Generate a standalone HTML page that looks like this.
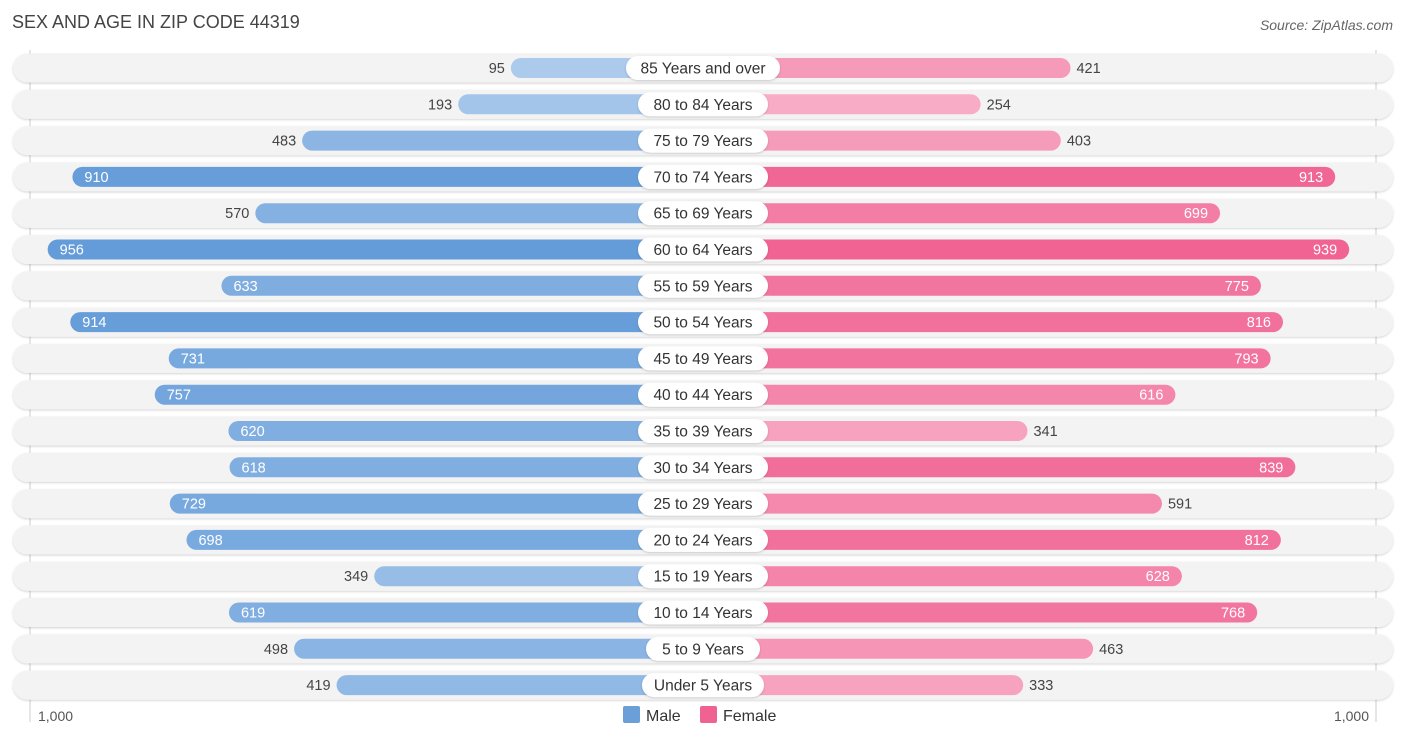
<!DOCTYPE html>
<html><head><meta charset="utf-8"><style>
body{margin:0;background:#fff;font-family:"Liberation Sans",sans-serif;}
svg text{font-family:"Liberation Sans",sans-serif;}
</style></head><body>
<svg id="chart" width="1406" height="740">
<text x="12" y="28" font-size="18" fill="#444">SEX AND AGE IN ZIP CODE 44319</text>
<text x="1393" y="30" font-size="14" fill="#666" font-style="italic" text-anchor="end">Source: ZipAtlas.com</text>
<line x1="30" y1="50" x2="30" y2="722" stroke="#ccc"/>
<line x1="1376" y1="50" x2="1376" y2="722" stroke="#ccc"/>
<g id="rows"></g>
<text x="38" y="721" font-size="14" fill="#555">1,000</text>
<text x="1369" y="721" font-size="14" fill="#555" text-anchor="end">1,000</text>
<g>
<rect x="623" y="706" width="17" height="17" rx="2" fill="#6a9fd8"/>
<text x="646" y="721" font-size="16" fill="#333">Male</text>
<rect x="700" y="706" width="17" height="17" rx="2" fill="#f06292"/>
<text x="723" y="721" font-size="16" fill="#333">Female</text>
</g>
</svg>
<script>
const categories=["85 Years and over","80 to 84 Years","75 to 79 Years","70 to 74 Years","65 to 69 Years","60 to 64 Years","55 to 59 Years","50 to 54 Years","45 to 49 Years","40 to 44 Years","35 to 39 Years","30 to 34 Years","25 to 29 Years","20 to 24 Years","15 to 19 Years","10 to 14 Years","5 to 9 Years","Under 5 Years"];
const maleValues=[95,193,483,910,570,956,633,914,731,757,620,618,729,698,349,619,498,419];
const femaleValues=[421,254,403,913,699,939,775,816,793,616,341,839,591,812,628,768,463,333];
const NS="http://www.w3.org/2000/svg";
const cx=703, base=141, scale=0.538, y0=68, step=36.3;
function xm(v){return cx-base-v*scale;}
function xf(v){return cx+base+v*scale;}
function yRow(i){return y0+i*step;}
function mix(a,b,t){return 'rgb('+a.map((c,k)=>Math.round(c+(b[k]-c)*t)).join(',')+')';}
function mk(tag,attrs,parent){const e=document.createElementNS(NS,tag);for(const k in attrs)e.setAttribute(k,attrs[k]);parent.appendChild(e);return e;}
const g=document.getElementById('rows');
const defs=mk('defs',{},g);
const f=mk('filter',{id:'sh',x:'-5%',y:'-30%',width:'110%',height:'160%'},defs);
mk('feDropShadow',{dx:0,dy:1,stdDeviation:1,'flood-color':'#000','flood-opacity':0.18},f);
categories.forEach((c,i)=>{
 const y=yRow(i);
 const bg=mk('rect',{x:13,y:y-14.5,width:1380,height:29,rx:14.5,fill:'#f3f3f3',filter:'url(#sh)'},g);
 
 
 const m=maleValues[i], fv=femaleValues[i];
 const tm=Math.min(1,Math.max(0,(m-100)/850)), tf=Math.min(1,Math.max(0,(fv-250)/700));
 const mb=mk('rect',{x:xm(m),y:y-10,width:cx-xm(m),height:20,rx:10,fill:mix([172,202,236],[100,156,217],tm)},g);
 
 
 const fb=mk('rect',{x:cx,y:y-10,width:xf(fv)-cx,height:20,rx:10,fill:mix([248,172,198],[240,98,146],tf)},g);
 
 
 const mIn=m>=600, fIn=fv>=600;
 const mt=mk('text',{x:mIn?xm(m)+12:xm(m)-6,y:y+5,'font-size':14.5,fill:mIn?'#fff':'#444','text-anchor':mIn?'start':'end'},g);
 mt.textContent=m;
 
 
 const ft=mk('text',{x:fIn?xf(fv)-12:xf(fv)+6,y:y+5,'font-size':14.5,fill:fIn?'#fff':'#444','text-anchor':fIn?'end':'start'},g);
 ft.textContent=fv;
 
 
 const w=c.length*8+18;
 const lp=mk('rect',{x:cx-w/2,y:y-12,width:w,height:24,rx:12,fill:'#fff',filter:'url(#sh)'},g);
 
 
 const lt=mk('text',{x:cx,y:y+5.5,'font-size':15.5,fill:'#333','text-anchor':'middle'},g);
 lt.textContent=c;
 
 
});
</script>
</body></html>
